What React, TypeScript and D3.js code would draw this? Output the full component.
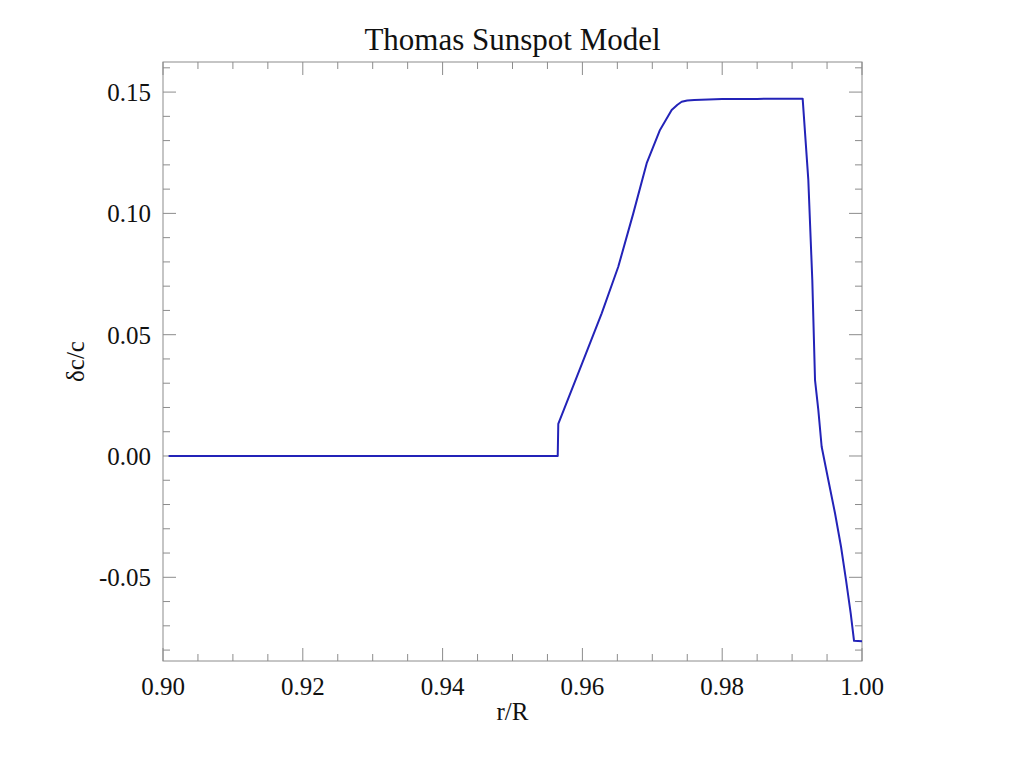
import * as d3 from 'd3';

// Thomas sunspot model: relative sound speed perturbation vs radius
const rVals = [
  0.9008, 0.9200, 0.9400, 0.9564, 0.95647, 0.95655, 0.9600, 0.96276, 0.96513,
  0.96728, 0.9692, 0.9711, 0.97277, 0.9736, 0.9742, 0.9750, 0.9760, 0.9800,
  0.9850, 0.99151, 0.99232, 0.99289, 0.99328, 0.99375, 0.99423, 0.99518,
  0.99614, 0.997, 0.99771, 0.99838, 0.99886, 1.0,
];
const dcVals = [
  0, 0, 0, 0, 0, 0.0132, 0.0385, 0.0588, 0.078, 0.1, 0.1207, 0.1344, 0.1426,
  0.1448, 0.146, 0.1465, 0.1467, 0.1471, 0.1472, 0.1473, 0.1138, 0.0725,
  0.0313, 0.019, 0.0038, -0.0099, -0.0236, -0.0374, -0.0511, -0.0648,
  -0.0762, -0.0764,
];

const xTicks = [0.9, 0.92, 0.94, 0.96, 0.98, 1.0];
const yTicks = [-0.05, 0.0, 0.05, 0.1, 0.15];

const W = 1024;
const H = 768;
const M = { left: 163, right: 162, top: 62, bottom: 107 };
const FONT = '"Liberation Serif", "Times New Roman", serif';
const AXIS = '#8c8c8c';

const fmt = (v: number) => v.toFixed(2);

export default function App() {
  const x = d3.scaleLinear().domain([0.9, 1.0]).range([M.left, W - M.right]);
  const y = d3.scaleLinear().domain([-0.0845, 0.1624]).range([H - M.bottom, M.top]);

  const xMinor = d3.range(0.9, 1.0001, 0.005);
  const yMinor = d3.range(-0.08, 0.1601, 0.01);

  const line = d3
    .line<number>()
    .x((_, i) => x(rVals[i]))
    .y((d) => y(d));
  const path = line(dcVals) || '';

  const [x0, x1] = x.range();
  const [y0, y1] = y.range(); // y0 bottom, y1 top

  return (
    <div style={{ position: 'absolute', left: 0, top: 0 }}>
      <svg width={W} height={H} style={{ display: 'block', background: '#fff' }}>
        <text x={(x0 + x1) / 2} y={50} textAnchor="middle" fontFamily={FONT} fontSize={31} fill="#111">
          Thomas Sunspot Model
        </text>

        {/* frame */}
        <rect x={x0} y={y1} width={x1 - x0} height={y0 - y1} fill="none" stroke={AXIS} strokeWidth={1} />

        {/* x ticks, bottom and top */}
        {xMinor.map((v, i) => {
          const major = i % 4 === 0;
          const len = major ? 13 : 7;
          const px = x(v);
          return (
            <g key={'xm' + i} stroke={AXIS} strokeWidth={1}>
              <line x1={px} x2={px} y1={y0} y2={y0 - len} />
              <line x1={px} x2={px} y1={y1} y2={y1 + len} />
            </g>
          );
        })}
        {xTicks.map((v) => (
          <text key={'xt' + v} x={x(v)} y={695} textAnchor="middle" fontFamily={FONT} fontSize={25} fill="#111">
            {fmt(v)}
          </text>
        ))}

        {/* y ticks, left and right */}
        {yMinor.map((v, i) => {
          const major = yTicks.some((t) => Math.abs(t - v) < 1e-6);
          const len = major ? 13 : 7;
          const py = y(v);
          return (
            <g key={'ym' + i} stroke={AXIS} strokeWidth={1}>
              <line x1={x0} x2={x0 + len} y1={py} y2={py} />
              <line x1={x1} x2={x1 - len} y1={py} y2={py} />
            </g>
          );
        })}
        {yTicks.map((v) => (
          <text key={'yt' + v} x={151} y={y(v) + 9} textAnchor="end" fontFamily={FONT} fontSize={25} fill="#111">
            {fmt(v)}
          </text>
        ))}

        <text x={(x0 + x1) / 2} y={720} textAnchor="middle" fontFamily={FONT} fontSize={25} fill="#111">
          r/R
        </text>
        <text
          transform={`translate(84, ${(y0 + y1) / 2}) rotate(-90)`}
          textAnchor="middle"
          fontFamily={FONT}
          fontSize={25}
          fill="#111"
        >
          δc/c
        </text>

        <path d={path} fill="none" stroke="#2323b8" strokeWidth={2} strokeLinejoin="round" />
      </svg>
    </div>
  );
}
